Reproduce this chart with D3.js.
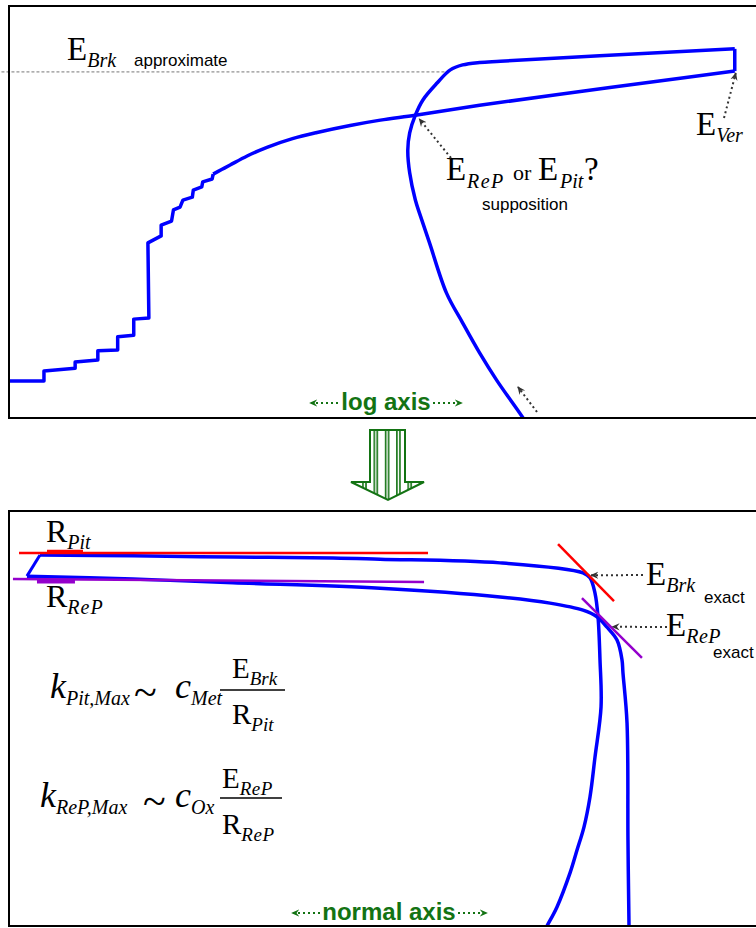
<!DOCTYPE html>
<html>
<head>
<meta charset="utf-8">
<script src="https://cdn.jsdelivr.net/npm/d3@7"></script>
<style>
body { margin: 0; background: #fff; }
</style>
</head>
<body>
<div id="chart"></div>
<script>
// top panel: log10 current vs potential (V)
const topStairs = [
	[-9.00, -0.410], [-8.63, -0.410], [-8.63, -0.386], [-8.30, -0.379], [-8.30, -0.364],
	[-8.06, -0.359], [-8.06, -0.337], [-7.85, -0.335], [-7.85, -0.303], [-7.68, -0.299],
	[-7.68, -0.260], [-7.52, -0.257], [-7.53, -0.075], [-7.39, -0.058], [-7.39, -0.032],
	[-7.28, -0.022], [-7.26, 0.005], [-7.19, 0.012], [-7.16, 0.029], [-7.06, 0.036],
	[-7.05, 0.053], [-6.96, 0.061], [-6.95, 0.073], [-6.85, 0.080], [-6.84, 0.092]
]
const topRise = [
	[-6.84, 0.092], [-6.75, 0.103], [-6.66, 0.114], [-6.48, 0.136], [-6.27, 0.157],
	[-6.00, 0.178], [-5.74, 0.193], [-5.39, 0.210], [-5.07, 0.223], [-4.70, 0.235],
	[-4.02, 0.259], [-3.17, 0.286], [-2.22, 0.315], [-1.32, 0.342]
]
const topVertex = [[-1.32, 0.342], [-1.32, 0.396]]
const topReverse = [
	[-1.32, 0.396], [-2.75, 0.379], [-3.80, 0.366], [-4.02, 0.363], [-4.20, 0.357],
	[-4.33, 0.345], [-4.47, 0.313], [-4.62, 0.272], [-4.70, 0.235], [-4.76, 0.192],
	[-4.78, 0.150], [-4.76, 0.095], [-4.70, 0.029], [-4.65, -0.007], [-4.55, -0.075],
	[-4.37, -0.197], [-4.20, -0.269], [-4.02, -0.342], [-3.84, -0.408], [-3.56, -0.500],
	[-3.50, -0.522]
]
const brkApprox = 0.340
const brkApproxSpan = [-9.08, -4.38]

// bottom panel: linear current vs potential (V)
const bottomLower = [
	[6.565, -0.520], [6.561, -0.500], [6.550, -0.293], [6.540, -0.011], [6.497, 0.110],
	[6.487, 0.141], [6.434, 0.189], [6.328, 0.220], [6.222, 0.245], [6.074, 0.261],
	[5.725, 0.278], [5.196, 0.293], [3.926, 0.314], [2.370, 0.327], [1.312, 0.336],
	[0.190, 0.343]
]
const bottomJump = [[0.190, 0.343], [0.328, 0.394]]
const bottomUpper = [
	[0.328, 0.394], [1.312, 0.392], [2.370, 0.389], [3.429, 0.387], [3.926, 0.384],
	[5.196, 0.375], [6.074, 0.351], [6.148, 0.339], [6.201, 0.302], [6.233, 0.245],
	[6.254, 0.141], [6.265, 0.028], [6.201, -0.093], [6.148, -0.189], [6.085, -0.261],
	[6.011, -0.317], [5.937, -0.372], [5.799, -0.454], [5.693, -0.500], [5.661, -0.514]
]
const pitLine = [[0.106, 0.399], [4.434, 0.399]]
const pitMark = [[0.402, 0.402], [0.783, 0.402]]
const repLine = [[0.042, 0.336], [4.392, 0.329]]
const repMark = [[0.296, 0.330], [0.698, 0.330]]
const brkTangent = [[5.810, 0.420], [6.402, 0.283]]
const repTangent = [[6.063, 0.290], [6.698, 0.146]]
const brkExact = [6.16, 0.345]
const repExact = [6.385, 0.221]
const repCross = [-4.69, 0.228]
const verPoint = [-1.32, 0.342]

const width = 756
const height = 928
const serif = '"Liberation Serif", "Times New Roman", serif'
const sans = '"Liberation Sans", Arial, sans-serif'
const green = '#137313'
const blue = '#0000ff'

const svg = d3.select('#chart').append('svg').attr('width', width).attr('height', height)
const defs = svg.append('defs')

// scales
const xLog = d3.scaleLinear().domain([-9, -1]).range([9, 765])
const yTop = d3.scaleLinear().domain([-0.5, 0.5]).range([418, 6])
const xLin = d3.scaleLinear().domain([0, 8]).range([9, 765])
const yBot = d3.scaleLinear().domain([-0.5, 0.5]).range([926, 511])

defs.append('clipPath').attr('id', 'clipTop')
	.append('rect').attr('x', 9).attr('y', 6).attr('width', 770).attr('height', 412)
defs.append('clipPath').attr('id', 'clipBot')
	.append('rect').attr('x', 9).attr('y', 511).attr('width', 770).attr('height', 415)

function marker(id, color) {
	defs.append('marker').attr('id', id)
		.attr('viewBox', '0 -5 10 10').attr('refX', 8).attr('refY', 0)
		.attr('markerWidth', 9).attr('markerHeight', 9)
		.attr('markerUnits', 'userSpaceOnUse').attr('orient', 'auto')
		.append('path').attr('d', 'M0,-4L9,0L0,4L3,0Z').attr('fill', color)
}
marker('ahGray', '#333')
marker('ahGreen', green)

const stripes = defs.append('pattern').attr('id', 'stripes')
	.attr('patternUnits', 'userSpaceOnUse').attr('x', 373.5).attr('y', 0)
	.attr('width', 11.3).attr('height', 10)
stripes.append('rect').attr('x', 0).attr('y', 0).attr('width', 1.6).attr('height', 10).attr('fill', green)
stripes.append('rect').attr('x', 3).attr('y', 0).attr('width', 1.6).attr('height', 10).attr('fill', green)

function dotted(x1, y1, x2, y2, color, mk) {
	svg.append('line')
		.attr('x1', x1).attr('y1', y1).attr('x2', x2).attr('y2', y2)
		.attr('stroke', color).attr('stroke-width', 2)
		.attr('stroke-dasharray', '2,3')
		.attr('marker-end', `url(#${mk})`)
}

function piece(x, y, txt, size, style, family, spacing) {
	svg.append('text')
		.attr('x', x).attr('y', y)
		.attr('font-family', family || serif)
		.attr('font-size', size)
		.attr('font-style', style || 'normal')
		.attr('letter-spacing', spacing || 0)
		.attr('fill', '#000')
		.text(txt)
}

// main symbol + italic subscript
function sym(x, y, main, sub, size, subSize, mainStyle, spacing) {
	const t = svg.append('text').attr('x', x).attr('y', y)
		.attr('font-family', serif).attr('font-size', size)
	t.append('tspan').attr('font-style', mainStyle || 'normal').text(main)
	t.append('tspan').attr('font-style', 'italic').attr('font-size', subSize)
		.attr('letter-spacing', spacing || 0)
		.attr('dy', subSize * 0.36).text(sub)
}

// ---------- top panel ----------
const lineTop = d3.line().x((d) => xLog(d[0])).y((d) => yTop(d[1]))
const smoothTop = d3.line().x((d) => xLog(d[0])).y((d) => yTop(d[1])).curve(d3.curveCatmullRom.alpha(0.5))
const gTop = svg.append('g').attr('clip-path', 'url(#clipTop)')

svg.append('line')
	.attr('x1', xLog(brkApproxSpan[0])).attr('x2', xLog(brkApproxSpan[1]))
	.attr('y1', yTop(brkApprox)).attr('y2', yTop(brkApprox))
	.attr('stroke', '#777').attr('stroke-width', 1).attr('stroke-dasharray', '3,2')

gTop.append('path').attr('d', lineTop(topStairs))
	.attr('fill', 'none').attr('stroke', blue).attr('stroke-width', 3.5).attr('stroke-linejoin', 'round')
gTop.append('path').attr('d', smoothTop(topRise))
	.attr('fill', 'none').attr('stroke', blue).attr('stroke-width', 3.5)
gTop.append('path').attr('d', lineTop(topVertex))
	.attr('fill', 'none').attr('stroke', blue).attr('stroke-width', 3.5)
gTop.append('path').attr('d', smoothTop(topReverse))
	.attr('fill', 'none').attr('stroke', blue).attr('stroke-width', 3.5)

svg.append('rect').attr('x', 9).attr('y', 6).attr('width', 770).attr('height', 412)
	.attr('fill', 'none').attr('stroke', '#000').attr('stroke-width', 2)

sym(67, 60, 'E', 'Brk', 33, 20)
piece(134, 66, 'approximate', 17, 'normal', sans)

piece(446, 180, 'E', 33)
piece(467, 188, 'ReP', 20, 'italic', serif, 1.5)
piece(513, 180, 'or', 22)
piece(538, 180, 'E', 33)
piece(560, 188, 'Pit', 20, 'italic')
piece(584, 180, '?', 33)
piece(482, 210, 'supposition', 17, 'normal', sans)

sym(696, 135, 'E', 'Ver', 33, 20)

dotted(451, 158, xLog(repCross[0]) + 3, yTop(repCross[1]) + 1, '#333', 'ahGray')
dotted(724, 118, xLog(verPoint[0]) + 1, yTop(verPoint[1]) + 2, '#333', 'ahGray')
dotted(537, 412, 518, 387, '#333', 'ahGray')

svg.append('text').attr('x', 386).attr('y', 410).attr('text-anchor', 'middle')
	.attr('font-family', sans).attr('font-weight', 'bold').attr('font-size', 24)
	.attr('fill', green).text('log axis')
dotted(338, 403, 310, 403, green, 'ahGreen')
dotted(433, 403, 462, 403, green, 'ahGreen')

// ---------- big hatched arrow ----------
const arrowPts = [[370, 430], [405, 430], [405, 482], [424, 482], [388, 500], [351, 482], [370, 482]]
svg.append('polygon').attr('points', arrowPts.map((p) => p.join(',')).join(' '))
	.attr('fill', 'url(#stripes)').attr('stroke', green).attr('stroke-width', 2)

// ---------- bottom panel ----------
const lineBot = d3.line().x((d) => xLin(d[0])).y((d) => yBot(d[1]))
const smoothBot = d3.line().x((d) => xLin(d[0])).y((d) => yBot(d[1])).curve(d3.curveCatmullRom.alpha(0.5))
const gBot = svg.append('g').attr('clip-path', 'url(#clipBot)')

gBot.append('path').attr('d', smoothBot(bottomLower))
	.attr('fill', 'none').attr('stroke', blue).attr('stroke-width', 3.5)
gBot.append('path').attr('d', lineBot(bottomJump))
	.attr('fill', 'none').attr('stroke', blue).attr('stroke-width', 3)
gBot.append('path').attr('d', smoothBot(bottomUpper))
	.attr('fill', 'none').attr('stroke', blue).attr('stroke-width', 3.5)

gBot.append('path').attr('d', lineBot(pitLine)).attr('stroke', '#ff0000').attr('stroke-width', 2.5)
gBot.append('path').attr('d', lineBot(pitMark)).attr('stroke', '#ff0000').attr('stroke-width', 4)
gBot.append('path').attr('d', lineBot(repLine)).attr('stroke', '#9400cc').attr('stroke-width', 2.5)
gBot.append('path').attr('d', lineBot(repMark)).attr('stroke', '#9400cc').attr('stroke-width', 4)
gBot.append('path').attr('d', lineBot(brkTangent)).attr('stroke', '#ff0000').attr('stroke-width', 2.5)
gBot.append('path').attr('d', lineBot(repTangent)).attr('stroke', '#9400cc').attr('stroke-width', 2.5)

svg.append('rect').attr('x', 9).attr('y', 511).attr('width', 770).attr('height', 415)
	.attr('fill', 'none').attr('stroke', '#000').attr('stroke-width', 2)

sym(46, 542, 'R', 'Pit', 32, 20)
sym(46, 607, 'R', 'ReP', 32, 20, 'normal', 1)

sym(646, 585, 'E', 'Brk', 33, 20)
piece(704, 603, 'exact', 17, 'normal', sans)
sym(666, 636, 'E', 'ReP', 33, 20, 'normal', 0.5)
piece(713, 658, 'exact', 17, 'normal', sans)

dotted(643, 575, xLin(brkExact[0]), yBot(brkExact[1]), '#333', 'ahGray')
dotted(667, 627, xLin(repExact[0]), yBot(repExact[1]), '#333', 'ahGray')

// formulas
sym(50, 698, 'k', 'Pit,Max', 36, 20, 'italic')
piece(134, 706, '~', 42)
sym(175, 698, 'c', 'Met', 36, 20, 'italic')
svg.append('line').attr('x1', 220).attr('x2', 285).attr('y1', 690).attr('y2', 690)
	.attr('stroke', '#000').attr('stroke-width', 1.5)
sym(232, 678, 'E', 'Brk', 29, 19)
sym(232, 724, 'R', 'Pit', 29, 19)

sym(40, 807, 'k', 'ReP,Max', 36, 20, 'italic')
piece(143, 815, '~', 42)
sym(175, 807, 'c', 'Ox', 36, 20, 'italic')
svg.append('line').attr('x1', 220).attr('x2', 282).attr('y1', 798).attr('y2', 798)
	.attr('stroke', '#000').attr('stroke-width', 1.5)
sym(222, 788, 'E', 'ReP', 29, 19, 'normal', 0.5)
sym(222, 834, 'R', 'ReP', 29, 19, 'normal', 0.5)

svg.append('text').attr('x', 389).attr('y', 920).attr('text-anchor', 'middle')
	.attr('font-family', sans).attr('font-weight', 'bold').attr('font-size', 24)
	.attr('fill', green).text('normal axis')
dotted(320, 913, 292, 913, green, 'ahGreen')
dotted(458, 913, 487, 913, green, 'ahGreen')
</script>
</body>
</html>
